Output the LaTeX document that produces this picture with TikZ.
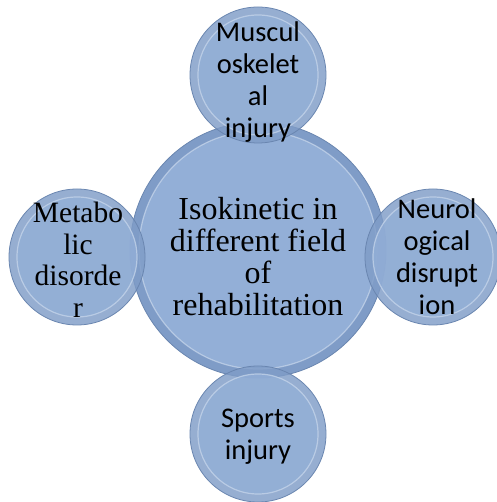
\documentclass[tikz,border=0pt]{standalone}
\usepackage{fontspec}
\setmainfont{Liberation Serif}
\newfontfamily\calib{Carlito}
\definecolor{edgecol}{HTML}{6A86B0}
\definecolor{outercol}{HTML}{7F9CC7}
\definecolor{innercol}{HTML}{93AFD7}
\definecolor{glosscol}{HTML}{C9D8EC}
\tikzset{
  x=1pt,y=1pt,
  bigbubble/.style={circle, draw=edgecol, line width=0.8pt, fill=outercol,
    minimum size=256pt, inner sep=0pt, align=center,
    path picture={
      \fill[innercol] (path picture bounding box.center) circle (119pt);
      \draw[glosscol, line width=1.2pt, opacity=0.7] (path picture bounding box.center) circle (119pt);
    }},
  smallbubble/.style={circle, draw=edgecol, line width=0.8pt, fill=outercol, fill opacity=0.82, text opacity=1,
    minimum size=136pt, inner sep=0pt, align=center,
    path picture={
      \fill[innercol] (path picture bounding box.center) circle (60pt);
      \draw[glosscol, line width=1.2pt, opacity=0.7] (path picture bounding box.center) circle (60pt);
    }},
  serifbig/.style={font=\fontsize{32}{32}\selectfont},
  serifsmall/.style={font=\fontsize{29.5}{31.5}\selectfont},
  sanssmall/.style={font=\calib\fontsize{28.5}{32}\selectfont},
}
\begin{document}
\begin{tikzpicture}
\useasboundingbox (0,0) rectangle (496,502);
\node[bigbubble] (center) at (258,252) {};
\node[smallbubble] (top) at (258,427) {};
\node[smallbubble] (left) at (77,245) {};
\node[smallbubble] (right) at (433,245) {};
\node[smallbubble] (bottom) at (258,68) {};
\node[serifbig, align=center] (ctext) at (258,245) {Isokinetic in\\different field\\of\\rehabilitation};
\node[sanssmall, align=center] (ttext) at (258,420) {Muscul\\oskelet\\al\\injury};
\node[serifsmall, align=center] (ltext) at (78,242) {Metabo\\lic\\disorde\\r};
\node[sanssmall, align=center] (rtext) at (437,245) {Neurol\\ogical\\disrupt\\ion};
\node[sanssmall, align=center] (btext) at (258,65) {Sports\\injury};
\end{tikzpicture}
\end{document}
